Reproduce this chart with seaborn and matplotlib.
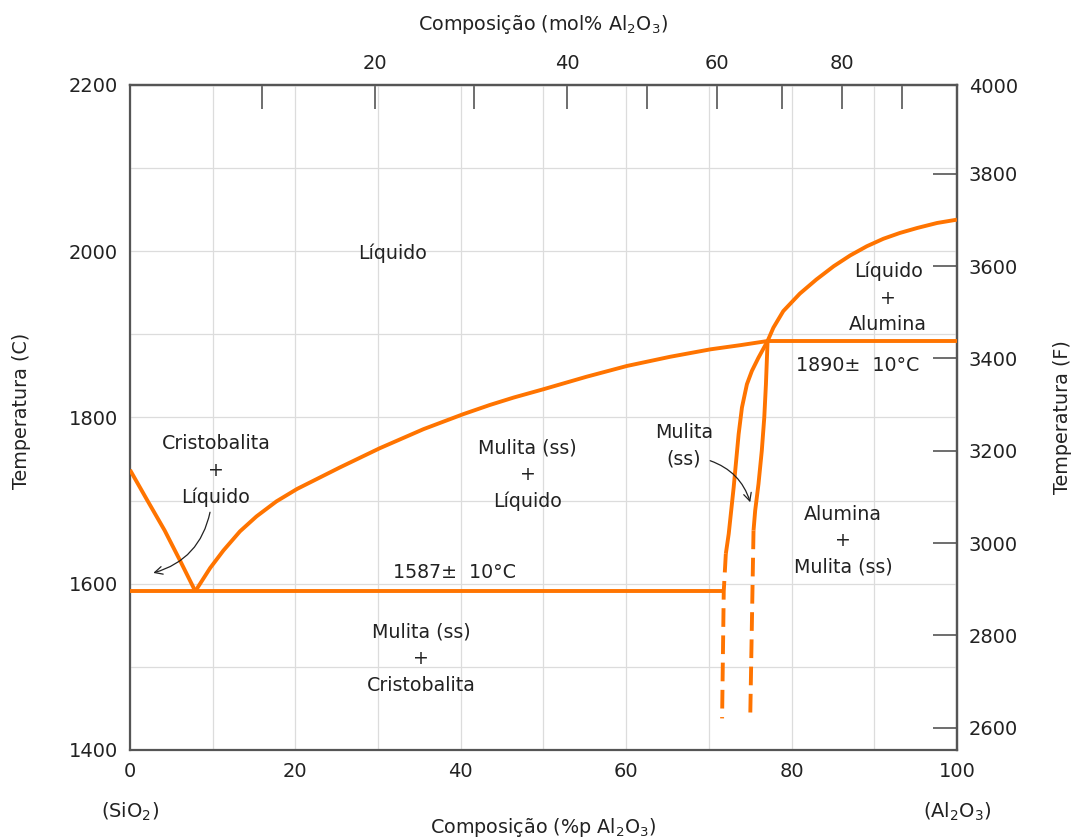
import matplotlib
matplotlib.use("Agg")
import matplotlib.pyplot as plt
import seaborn as sns

# ---------------- data (composition in wt% Al2O3, temperature in C) ----------------
crist_liq_x = [0.0, 2.0, 4.2, 6.05, 7.9]
crist_liq_T = [1737, 1702, 1664, 1628, 1591]

mull_liq_x = [7.9, 9.7, 11.3, 13.3, 15.3, 17.7, 20.2, 25.4, 30.2, 35.5, 40.3, 43.5,
              46.4, 50.0, 55.2, 60.1, 65.3, 70.2, 73.8, 77.1]
mull_liq_T = [1591, 1619, 1640, 1663, 1681, 1699, 1714, 1740, 1763, 1786, 1804, 1815,
              1824, 1834, 1849, 1862, 1873, 1882, 1887, 1892]

alum_liq_x = [77.1, 77.8, 79.0, 81.0, 83.0, 85.1, 87.1, 89.1, 91.1, 93.1, 95.2, 97.6, 100.0]
alum_liq_T = [1892, 1908, 1928, 1949, 1966, 1982, 1995, 2006, 2015, 2022, 2028, 2034, 2038]

eut_x = [0.0, 71.8]
eut_T = [1591, 1591]
perit_x = [77.1, 100.0]
perit_T = [1892, 1892]

mull_left_x = [77.1, 76.0, 75.2, 74.6, 74.0, 73.6, 73.3, 73.0, 72.7, 72.4, 72.05]
mull_left_T = [1892, 1872, 1856, 1840, 1812, 1780, 1748, 1716, 1688, 1660, 1636]
mull_left_dash_x = [72.05, 71.8, 71.6]
mull_left_dash_T = [1636, 1591, 1438]

mull_right_x = [77.1, 76.9, 76.7, 76.4, 76.0, 75.6, 75.4]
mull_right_T = [1892, 1840, 1800, 1760, 1720, 1688, 1664]
mull_right_dash_x = [75.4, 75.0]
mull_right_dash_T = [1664, 1438]

wt_ticks = list(range(0, 101, 10))
wt_labels = ["0", "", "20", "", "40", "", "60", "", "80", "", "100"]
temp_ticks = list(range(1400, 2201, 100))
temp_labels = ["1400", "", "1600", "", "1800", "", "2000", "", "2200"]
f_ticks = list(range(2600, 3801, 200))
f_top_label = "4000"
mol_tick_pos = [15.96, 29.64, 41.6, 52.86, 62.5, 70.96, 78.8, 86.1, 93.4]
mol_tick_labels = ["", "20", "", "40", "", "60", "", "80", ""]

region_labels = [
    (31.8, 1998, "Líquido"),
    (10.4, 1736, "Cristobalita\n+\nLíquido"),
    (48.1, 1731, "Mulita (ss)\n+\nLíquido"),
    (35.2, 1510, "Mulita (ss)\n+\nCristobalita"),
    (67.0, 1766, "Mulita\n(ss)"),
    (91.7, 1944, "Líquido\n+\nAlumina"),
    (86.2, 1652, "Alumina\n+\nMulita (ss)"),
    (39.3, 1613, "1587±  10°C"),
    (88.0, 1862, "1890±  10°C"),
]

# ---------------- style ----------------
sns.set_style("white")
plt.rcParams["font.family"] = ["DejaVu Sans"]
ORANGE = "#ff7400"
SPINE = "#555555"
TXT = "#222222"
LW = 2.8
FS = 13.7
TFS = 14
LFS = 13.8

fig = plt.figure(figsize=(10.75, 8.39), dpi=100)
ax = fig.add_axes([0.1209, 0.1061, 0.7693, 0.7926])

solid = [(crist_liq_x, crist_liq_T), (mull_liq_x, mull_liq_T), (alum_liq_x, alum_liq_T),
         (eut_x, eut_T), (perit_x, perit_T), (mull_left_x, mull_left_T),
         (mull_right_x, mull_right_T)]
for xs, ts in solid:
    sns.lineplot(x=xs, y=ts, ax=ax, sort=False, estimator=None, color=ORANGE,
                 lw=LW, solid_capstyle="butt", solid_joinstyle="round", zorder=3)
for xs, ts in [(mull_left_dash_x, mull_left_dash_T), (mull_right_dash_x, mull_right_dash_T)]:
    sns.lineplot(x=xs, y=ts, ax=ax, sort=False, estimator=None, color=ORANGE,
                 lw=LW, linestyle=(0, (4.8, 2.2)), zorder=3)

ax.set_xlim(0, 100)
ax.set_ylim(1400, 2200)
ax.set_xticks(wt_ticks, labels=wt_labels)
ax.set_yticks(temp_ticks, labels=temp_labels)
ax.grid(True, color="#dcdcdc", lw=0.9)
ax.set_axisbelow(True)
ax.tick_params(direction="in", length=17, width=1.2, color=SPINE, labelsize=TFS,
               pad=8.5, labelcolor=TXT, top=False, right=False)
for s in ax.spines.values():
    s.set_color(SPINE)
    s.set_linewidth(1.6)

# top axis: mol %
secx = ax.secondary_xaxis("top")
secx.set_xticks(mol_tick_pos, labels=mol_tick_labels)
secx.tick_params(direction="in", length=17, width=1.2, color=SPINE, labelsize=TFS,
                 pad=8.5, labelcolor=TXT)
secx.spines["top"].set_color(SPINE)
secx.spines["top"].set_linewidth(1.6)
secx.set_xlabel("Composição (mol% Al$_2$O$_3$)", fontsize=LFS, color=TXT)
secx.xaxis.set_label_coords(0.5, 1.082, transform=ax.transAxes)

# right axis: Fahrenheit
secy = ax.secondary_yaxis("right", functions=(lambda c: c * 9 / 5 + 32,
                                               lambda f: (f - 32) * 5 / 9))
secy.set_yticks(f_ticks)
secy.tick_params(direction="in", length=17, width=1.2, color=SPINE, labelsize=TFS,
                 pad=8.5, labelcolor=TXT)
secy.spines["right"].set_color(SPINE)
secy.spines["right"].set_linewidth(1.6)
secy.set_ylabel("Temperatura (F)", fontsize=LFS, color=TXT, rotation=90)
secy.yaxis.set_label_coords(1.116, 0.5, transform=ax.transAxes)
ax.annotate(f_top_label, xy=(1, 1), xycoords="axes fraction", xytext=(8.5, -1.5),
            textcoords="offset points", ha="left", va="center", fontsize=TFS, color=TXT)

ax.set_xlabel("Composição (%p Al$_2$O$_3$)", fontsize=LFS, color=TXT)
ax.xaxis.set_label_coords(0.5, -0.1)
ax.set_ylabel("Temperatura (C)", fontsize=LFS, color=TXT)
ax.yaxis.set_label_coords(-0.12, 0.51)

ax.text(0, -0.093, "(SiO$_2$)", transform=ax.get_xaxis_transform(), ha="center",
        va="center", fontsize=TFS, color=TXT)
ax.text(100, -0.093, "(Al$_2$O$_3$)", transform=ax.get_xaxis_transform(), ha="center",
        va="center", fontsize=TFS, color=TXT)

for x, t, s in region_labels:
    ax.text(x, t, s, ha="center", va="center", fontsize=FS, linespacing=1.5,
            color=TXT, zorder=4)

arrow_kw = dict(arrowstyle="->", color=TXT, lw=0.9, shrinkA=0, shrinkB=0,
                mutation_scale=14)
ax.annotate("", xy=(2.82, 1613), xytext=(9.68, 1686),
            arrowprops=dict(connectionstyle="arc3,rad=-0.3", **arrow_kw))
ax.annotate("", xy=(75.0, 1698), xytext=(70.16, 1748),
            arrowprops=dict(connectionstyle="arc3,rad=-0.25", **arrow_kw))

fig.savefig("out.png", dpi=100)
